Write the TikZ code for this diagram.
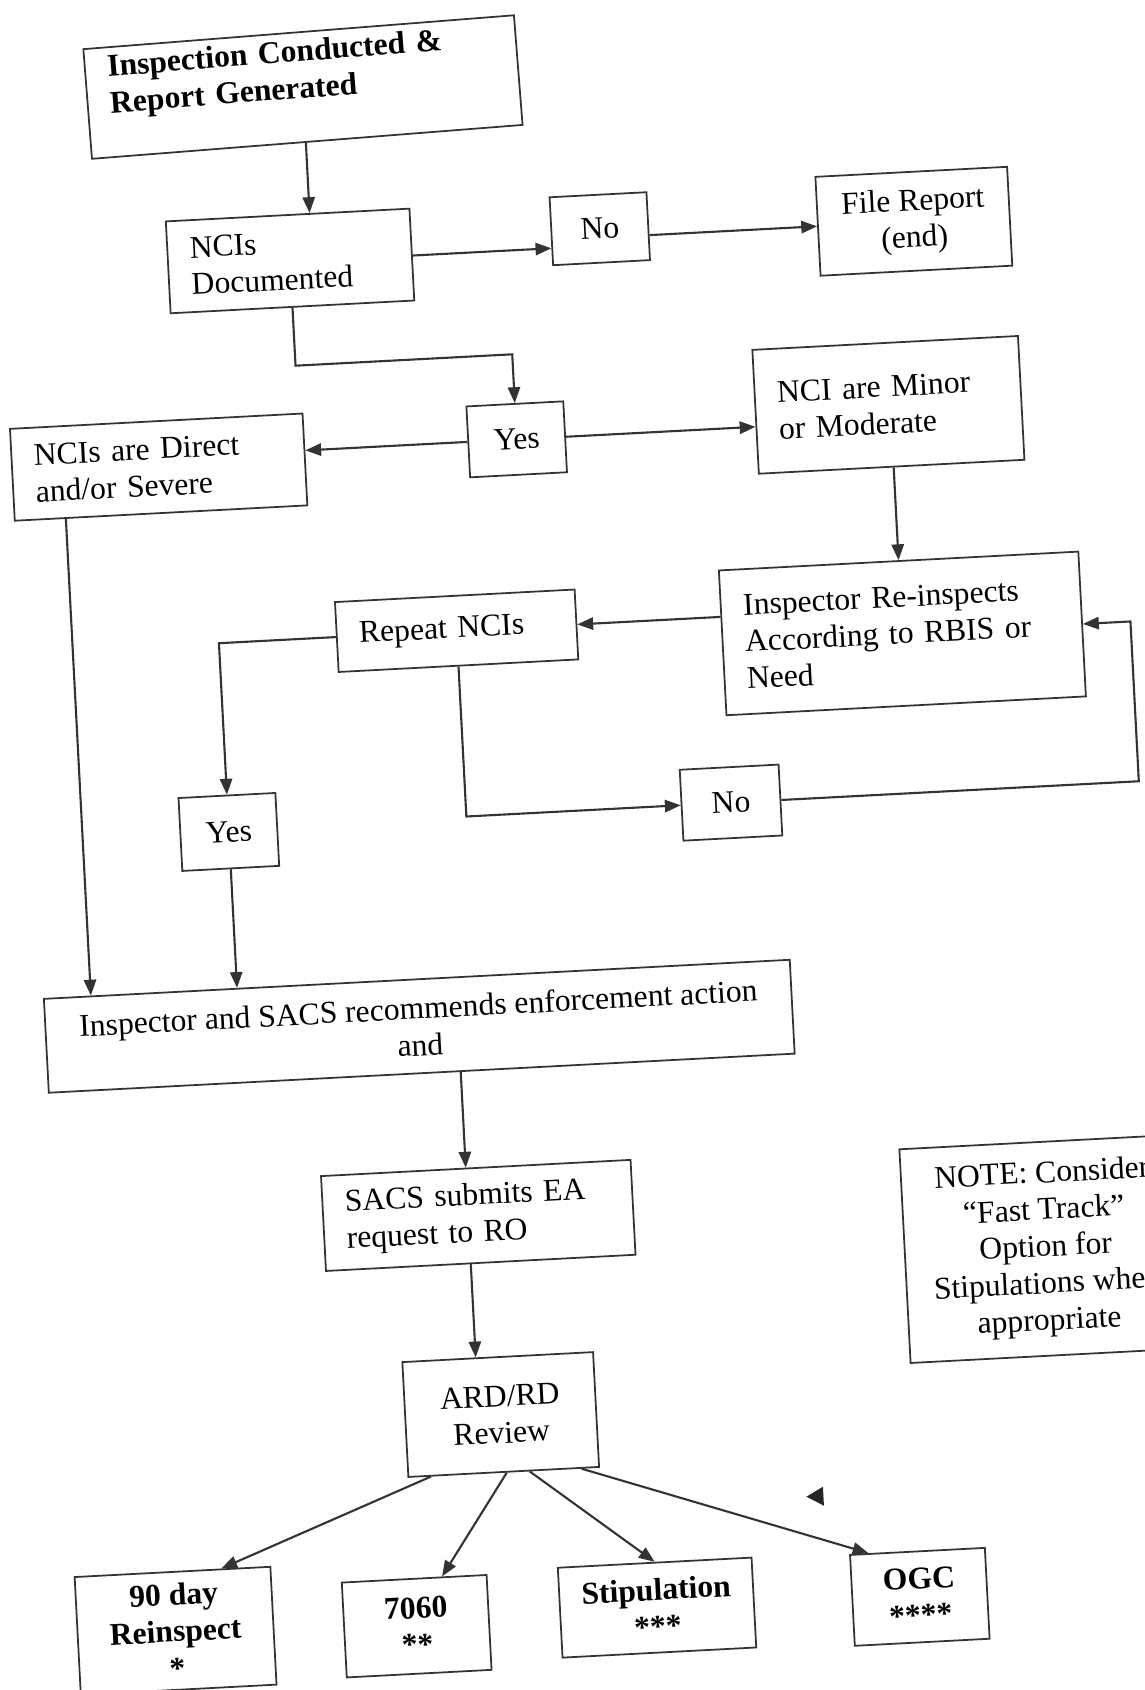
\documentclass[tikz,border=0pt]{standalone}
\usepackage{fontspec}
\setmainfont{Liberation Serif}
\usetikzlibrary{arrows.meta}
\tikzset{
	box/.style = {
		shape=rectangle,
		draw=black!80,
		line width=1pt,
		font=\fontsize{18}{21}\selectfont,
		inner xsep=0.45cm,
		inner ysep=0pt
	},
	leftbox/.style = {box, align=left},
	midbox/.style = {box, align=center, inner xsep=0.2cm},
	boldbox/.style = {midbox, font=\fontsize{18}{21}\selectfont\bfseries},
	arr/.style = {draw=black!80, line width=1.2pt, -{Triangle[length=9pt,width=7pt]}}
}

\begin{document}
\begin{tikzpicture}[x=0.02cm, y=-0.02cm]
	\useasboundingbox (0,0) rectangle (1145,1690);
	\fill[white] (0,0) rectangle (1145,1690);
	\clip (0,0) rectangle (1145,1690);
	\begin{scope}[rotate around={3:(572,845)}, transform shape]
		\node[leftbox, font=\fontsize{18}{21}\selectfont\bfseries, text width=7.74cm, minimum height=2.2cm, rotate=1.5] (top) at (343,74) {Inspection Conducted \&\\Report Generated\\\mbox{}};
		\node[leftbox, text width=3.98cm, minimum height=1.84cm] (doc) at (321,247) {NCIs\\Documented};
		\node[midbox, minimum width=1.94cm, minimum height=1.36cm] (no1) at (632,231) {No};
		\node[midbox, minimum width=3.84cm, minimum height=1.98cm] (file) at (946,240) {File Report\\(end)};
		\node[midbox, minimum width=1.94cm, minimum height=1.42cm] (yes1) at (538,437) {Yes};
		\node[leftbox, text width=4.42cm, minimum height=2.48cm] (minor) at (911,422) {NCI are Minor\\or Moderate};
		\node[leftbox, text width=4.96cm, minimum height=1.84cm] (direct) at (179,446) {NCIs are Direct\\and/or Severe};
		\node[leftbox, text width=6.3cm, minimum height=2.9cm] (reinspect) at (913,651) {Inspector Re-inspects\\According to RBIS or\\Need};
		\node[leftbox, text width=3.9cm, minimum height=1.4cm] (repeat) at (468,625) {Repeat NCIs};
		\node[midbox, minimum width=1.98cm, minimum height=1.42cm] (no2) at (733,811) {No};
		\node[midbox, minimum width=1.94cm, minimum height=1.46cm] (yes2) at (230,814) {Yes};
		\node[midbox, minimum width=14.94cm, minimum height=1.88cm] (sacsrec) at (410,1018) {Inspector and SACS recommends enforcement action\\and};
		\node[leftbox, text width=5.3cm, minimum height=1.9cm] (submit) at (459,1210) {SACS submits EA\\request to RO};
		\node[midbox, minimum width=3.82cm, minimum height=2.3cm] (ard) at (471,1410) {ARD/RD\\Review};
		\node[boldbox, minimum width=3.92cm, minimum height=2.36cm] (r90) at (135,1609) {90 day\\Reinspect\\*};
		\node[boldbox, minimum width=2.9cm, minimum height=1.9cm] (r7060) at (376,1617) {7060\\**};
		\node[boldbox, minimum width=3.88cm, minimum height=1.8cm] (stip) at (617,1611) {Stipulation\\***};
		\node[boldbox, minimum width=2.7cm, minimum height=1.82cm] (ogc) at (880,1614) {OGC\\****};
		\node[midbox, minimum width=5.64cm, minimum height=4.28cm] (note) at (1024,1273) {NOTE: Consider\\“Fast Track”\\Option for\\Stipulations when\\appropriate};

		\draw[arr] ([xshift=0.44cm]doc.north |- top.south) -- ([xshift=0.44cm]doc.north);
		\draw[arr] ([yshift=-0.02cm]doc.east) -- ([yshift=-0.02cm]doc.east -| no1.west);
		\draw[arr] (no1.east |- file.west) -- (file.west);
		\draw[arr] (doc.south) -- ++(0,58) -| (yes1.north);
		\draw[arr] (yes1.east) -- (yes1.east -| minor.west);
		\draw[arr] (yes1.west) -- (yes1.west -| direct.east);
		\draw[arr] (minor.south -| reinspect.north) -- (reinspect.north);
		\draw[arr] (repeat.east -| reinspect.west) -- (repeat.east);
		\draw[arr] (repeat.west) -| (yes2.north);
		\draw[arr] (repeat.south) |- (no2.west);
		\draw[arr] (no2.east) -- ++(358,0) |- (reinspect.east);
		\coordinate (dl) at ([xshift=1.04cm]direct.south west);
		\draw[arr] (dl) -- (dl |- sacsrec.north);
		\draw[arr] (yes2.south) -- (yes2.south |- sacsrec.north);
		\draw[arr] ([xshift=-0.2cm]submit.north |- sacsrec.south) -- ([xshift=-0.2cm]submit.north);
		\draw[arr] ([xshift=-0.2cm]submit.south) -- ([xshift=-0.2cm]submit.south |- ard.north);
		\draw[arr] ([xshift=-1.46cm]ard.south) -- ([xshift=0.98cm]r90.north);
		\draw[arr] ([xshift=0.06cm]ard.south) -- ([xshift=0.56cm]r7060.north);
		\draw[arr] ([xshift=0.52cm]ard.south) -- (stip.north);
		\draw[arr] ([xshift=1.56cm]ard.south) -- ([xshift=-0.98cm]ogc.north);
		\fill[black!85] (772,1508) -- (789,1499) -- (789,1518) -- cycle;
	\end{scope}
\end{tikzpicture}
\end{document}
